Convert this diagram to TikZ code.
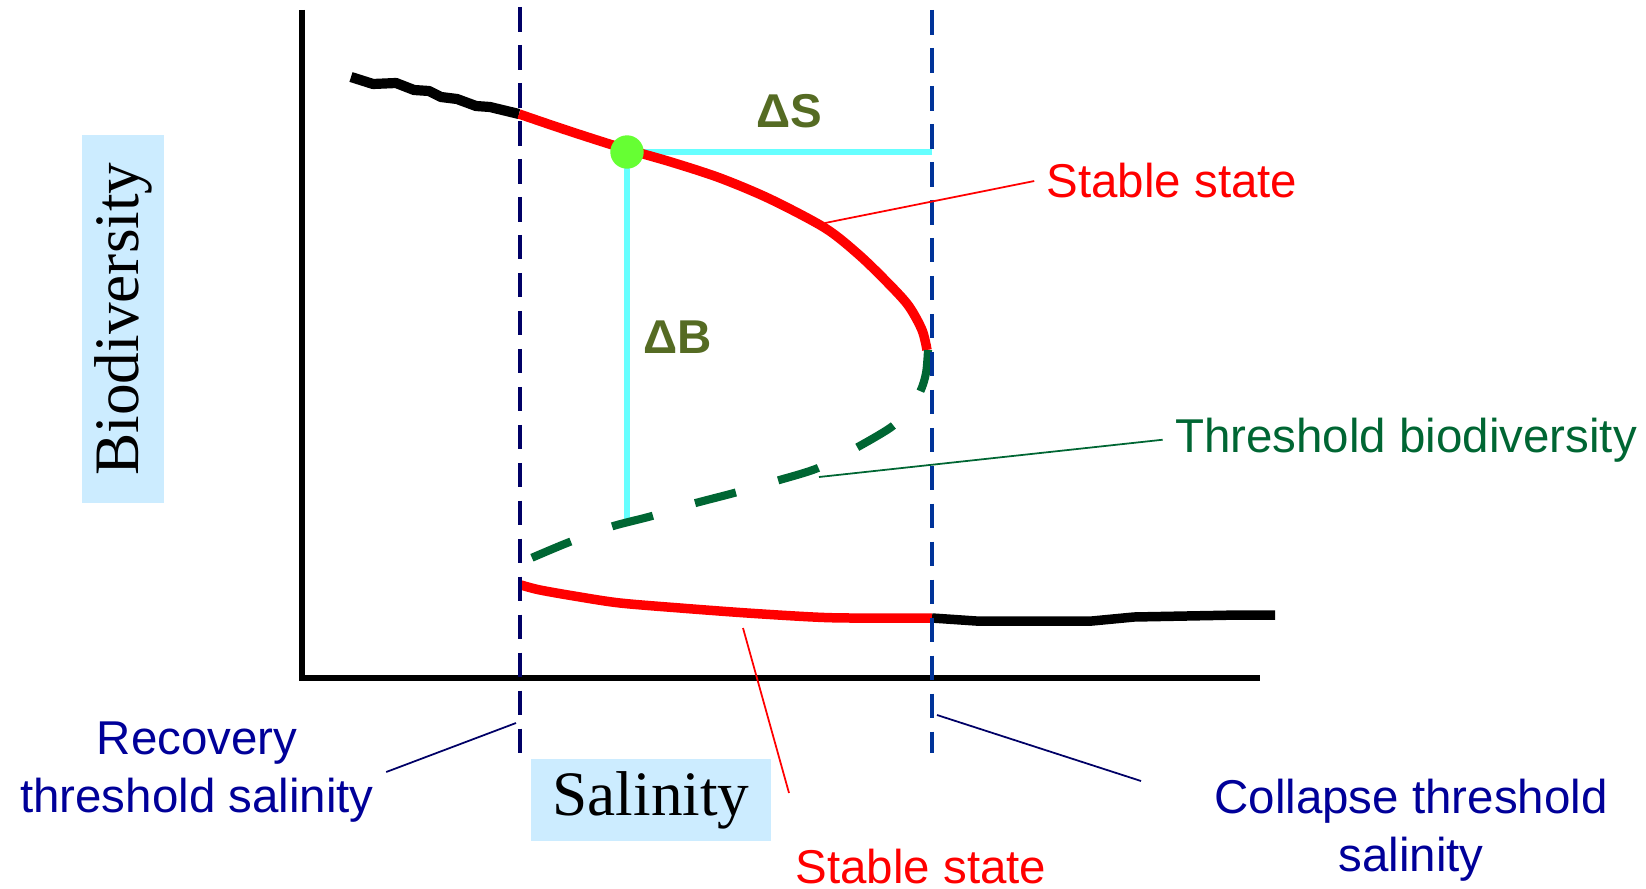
\documentclass[tikz,border=0pt]{standalone}
\usepackage{fontspec}
\setmainfont{Liberation Sans}
\newfontfamily\axisfont{Liberation Serif}
\usepackage{tikz}

\definecolor{navyline}{RGB}{0,0,102}
\definecolor{blueline}{RGB}{0,51,153}
\definecolor{labelblue}{RGB}{0,0,153}
\definecolor{threshgreen}{RGB}{0,102,51}
\definecolor{deltagreen}{RGB}{85,107,35}
\definecolor{boxblue}{RGB}{204,236,255}
\definecolor{cyanline}{RGB}{102,255,255}
\definecolor{dotgreen}{RGB}{102,255,51}

\begin{document}
\begin{tikzpicture}[x=0.01cm, y=-0.01cm,
    lbl/.style={font=\fontsize{13.5}{16.5}\selectfont, align=center},
    delta/.style={font=\bfseries\fontsize{13.5}{16.5}\selectfont, text=deltagreen, anchor=base},
    axistitle/.style={fill=boxblue, font=\axisfont\fontsize{18}{22}\selectfont, inner sep=0pt},
    curve/.style={line width=2.7pt, line join=round},
    saltline/.style={dash pattern=on 7pt off 3.8pt},
    leader/.style={line width=0.5pt}]
    \useasboundingbox (0,0) rectangle (1646,888);

    \node[axistitle, rotate=90, minimum width=3.68cm, minimum height=0.81cm] (bio) at (123,319) {Biodiversity};
    \node[axistitle, minimum width=2.4cm, minimum height=0.81cm] (sal) at (651,800) {Salinity};

    \draw[line width=1.6pt] (302,10) -- (302,678) -- (1260,678);

    \coordinate (eq) at (627,152);
    \coordinate (dsend) at (932,152);
    \coordinate (dbend) at (627,521);
    \draw[cyanline, line width=1.6pt] (eq) -- (dsend);
    \draw[cyanline, line width=1.6pt] (eq) -- (dbend);

    \draw[curve, black, line width=2.9pt] (351,77) -- (373,84) -- (396,83) -- (414,90) -- (429,91) -- (441,97) -- (457,99) -- (476,106) -- (490,107) -- (519,114);
    \draw[curve, red] plot[smooth] coordinates {(519,114) (566,130) (619,147) (671,162) (720,178) (770,199) (825,228) (858,254) (885,280) (908,305) (922,330) (927,350)};
    \draw[curve, threshgreen, line width=2.3pt, dash pattern=on 12pt off 12.5pt] plot[smooth] coordinates {(928,350) (926,373) (920,392) (906,413) (890,428) (856,448) (818,468) (776,481) (734,493) (692,504) (652,516) (610,527) (567,543) (529,559)};
    \draw[curve, red] plot[smooth] coordinates {(521,585) (540,590) (580,597) (620,603) (680,608) (747,613) (813,617) (850,618) (932,618)};
    \draw[curve, black] (932,618) -- (976,621) -- (1092,621) -- (1134,617) -- (1239,615) -- (1275,615);

    \draw[saltline, navyline, line width=1.2pt] (520,7) -- (520,753);
    \draw[saltline, blueline, line width=0.9pt] (932,10) -- (932,753);

    \fill[dotgreen] (eq) circle (16.7);

    \node[delta] (ds) at (789,128) {ΔS};
    \node[delta] (db) at (678,353) {ΔB};

    \node[lbl, text=red, anchor=base] (stabup) at (1172,198) {Stable state};
    \node[lbl, text=threshgreen, anchor=base] (thr) at (1406,452) {Threshold biodiversity};
    \node[lbl, text=red, anchor=base] (stablow) at (921,883) {Stable state};
    \node[lbl, text=labelblue] (rec) at (197,772) {Recovery\\threshold salinity};
    \node[lbl, text=labelblue] (col) at (1411,830) {Collapse threshold\\salinity};

    \coordinate (stabuppt) at (825,223);
    \coordinate (thrpt) at (819,477);
    \coordinate (recpt) at (516,723);
    \coordinate (colstart) at (1141,781);
    \coordinate (colpt) at (937,715);
    \coordinate (stablowstart) at (789,793);
    \coordinate (stablowpt) at (743,628);

    \draw[leader, red] (stabup.west) -- (stabuppt);
    \draw[leader, threshgreen] (thr.west) -- (thrpt);
    \draw[leader, navyline] (rec.east) -- (recpt);
    \draw[leader, navyline] (colstart) -- (colpt);
    \draw[leader, red] (stablowstart) -- (stablowpt);
\end{tikzpicture}
\end{document}
